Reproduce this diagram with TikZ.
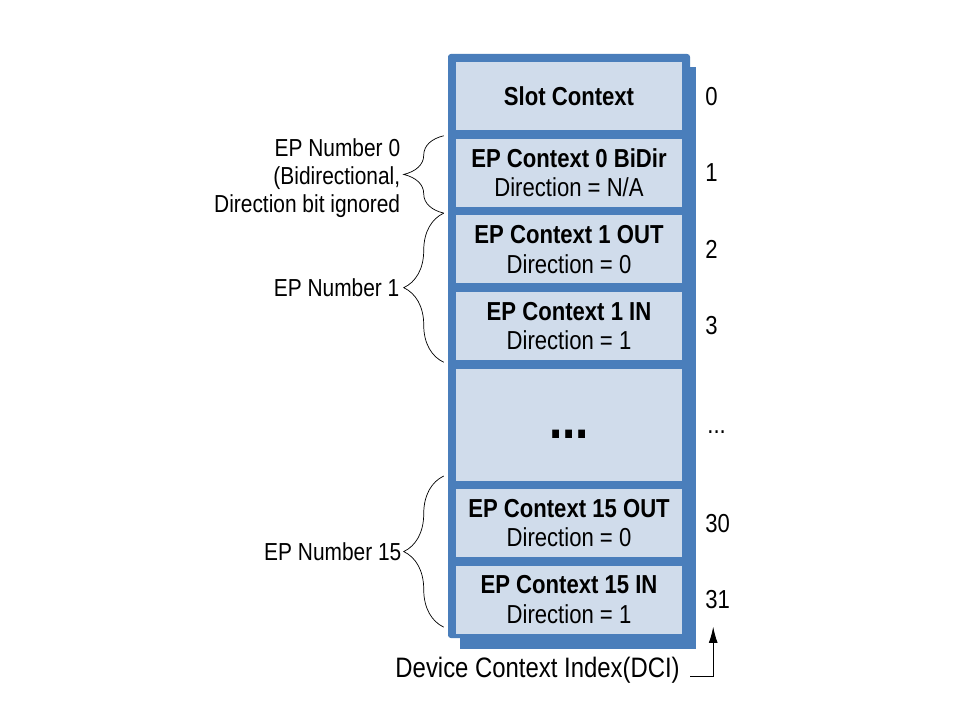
\documentclass[tikz,border=0pt]{standalone}
\usepackage{fontspec}
\setmainfont{Liberation Sans}[FakeStretch=0.85]
\usepackage{xcolor}
\definecolor{dcxBlue}{HTML}{4A7EBB}
\definecolor{dcxBlueLight}{HTML}{D0DCEB}
\usepackage{tikz}
\usetikzlibrary{arrows.meta,calc,positioning,decorations.pathreplacing}

\begin{document}
\begin{tikzpicture}[>=Stealth,font=\fontsize{18.5}{21}\selectfont]
  \tikzset{
    ctxshadow/.style={fill=dcxBlue},
    ctxframe/.style={fill=dcxBlue, rounded corners=2pt},
    ctxcell/.style={
      fill=dcxBlueLight,
      minimum width=5.65cm,
      minimum height=1.7cm,
      inner sep=0pt,
      align=center
    },
    ctxindex/.style={anchor=west, inner sep=0pt},
    epbrace/.style={decorate, decoration={brace, amplitude=1cm}, line width=0.5pt, black},
    eplabel/.style={anchor=east, align=right, inner sep=0pt, font=\fontsize{17.5}{20}\selectfont},
    dciarrow/.style={-{Latex[length=0.4cm,width=0.22cm]}, line width=0.6pt}
  }
  \path[use as bounding box] (0,0) rectangle (24,18);

  \fill[ctxshadow] (11.5,1.775) rectangle (17.4,16.325);
  \fill[ctxframe] (11.2,2.05) rectangle (17.25,16.65);

  \node[ctxcell,anchor=north] (slot) at (14.225,16.45) {\textbf{Slot Context}};
  \node[ctxcell,below=0.2cm of slot] (ep0) {\textbf{EP Context 0 BiDir}\\Direction = N/A};
  \node[ctxcell,below=0.2cm of ep0] (ep1out) {\textbf{EP Context 1 OUT}\\Direction = 0};
  \node[ctxcell,below=0.2cm of ep1out] (ep1in) {\textbf{EP Context 1 IN}\\Direction = 1};
  \node[ctxcell,below=0.2cm of ep1in,minimum height=2.8cm] (gap) {};
  \node[ctxcell,below=0.2cm of gap] (ep15out) {\textbf{EP Context 15 OUT}\\Direction = 0};
  \node[ctxcell,below=0.2cm of ep15out] (ep15in) {\textbf{EP Context 15 IN}\\Direction = 1};
  \node[inner sep=0pt,font=\fontsize{40}{44}\selectfont\bfseries] (gapdots) at ([yshift=-0.25cm]gap.center) {...};

  \node[ctxindex,right=0.57cm of slot] (idx0) {0};
  \node[ctxindex,right=0.57cm of ep0] (idx1) {1};
  \node[ctxindex,right=0.57cm of ep1out] (idx2) {2};
  \node[ctxindex,right=0.57cm of ep1in] (idx3) {3};
  \node[ctxindex,right=0.62cm of gap,yshift=-0.2cm] (idxdots) {...};
  \node[ctxindex,right=0.57cm of ep15out] (idx30) {30};
  \node[ctxindex,right=0.57cm of ep15in] (idx31) {31};

  \coordinate (br0bot) at ([xshift=-0.3cm,yshift=-0.15cm]ep0.south west);
  \coordinate (br0top) at ([xshift=-0.3cm,yshift=0.07cm]ep0.north west);
  \coordinate (br1bot) at ([xshift=-0.3cm,yshift=-0.05cm]ep1in.south west);
  \coordinate (br1top) at ([xshift=-0.3cm,yshift=0.05cm]ep1out.north west);
  \coordinate (br15bot) at ([xshift=-0.3cm,yshift=0.17cm]ep15in.south west);
  \coordinate (br15top) at ([xshift=-0.3cm,yshift=0.32cm]ep15out.north west);

  \draw[epbrace] (br0bot) -- (br0top)
    node[eplabel,midway,xshift=-1.08cm,yshift=-0.1cm] (ep0lbl) {EP Number 0\\(Bidirectional,\\Direction bit ignored};
  \draw[epbrace] (br1bot) -- (br1top)
    node[eplabel,midway,xshift=-1.1cm] (ep1lbl) {EP Number 1};
  \draw[epbrace] (br15bot) -- (br15top)
    node[eplabel,midway,xshift=-1.05cm] (ep15lbl) {EP Number 15};

  \node[anchor=east,inner sep=0pt,font=\fontsize{20}{24}\selectfont] (dci) at (17.0,1.25) {Device Context Index(DCI)};
  \coordinate (dcitip) at (17.83,2.33);
  \draw[dciarrow] ([xshift=0.25cm,yshift=-0.15cm]dci.east) -| (dcitip);
\end{tikzpicture}
\end{document}
